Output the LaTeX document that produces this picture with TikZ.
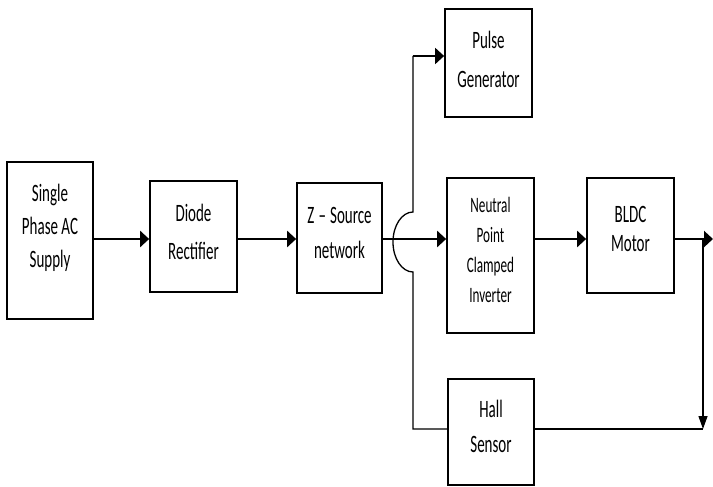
\documentclass[tikz,border=0pt]{standalone}
\usepackage{fontspec}
\setmainfont{Carlito}[FakeStretch=0.6]
\usetikzlibrary{arrows.meta}
\begin{document}
\begin{tikzpicture}[x=1pt,y=-1pt,
  block/.style={draw=black,line width=1.7pt,rectangle,inner sep=0pt},
  label/.style={anchor=north,align=center,inner sep=0pt},
  bigtext/.style={font=\fontsize{25}{#1}\selectfont},
  smalltext/.style={font=\fontsize{22}{#1}\selectfont},
  mainflow/.style={line width=2.6pt,-{Triangle[length=9pt,width=16pt]}},
  wire/.style={line width=1.3pt},
  sidearrow/.style={line width=1.8pt,-{Triangle[length=9pt,width=16pt]}},
  downarrow/.style={line width=1.3pt,-{Triangle[length=13pt,width=9pt]}}]

\useasboundingbox[fill=white] (0,0) rectangle (713,487);

% blocks
\node[block,minimum width=86pt,minimum height=157pt] (sup)   at (50,240.5) {};
\node[block,minimum width=87pt,minimum height=111pt] (rect)  at (193.5,236.5) {};
\node[block,minimum width=85pt,minimum height=110pt] (zs)    at (339.5,238) {};
\node[block,minimum width=87pt,minimum height=108pt] (pulse) at (488.5,63) {};
\node[block,minimum width=87pt,minimum height=155pt] (npc)   at (490.5,255.5) {};
\node[block,minimum width=87pt,minimum height=115pt] (bldc)  at (630.5,235.5) {};
\node[block,minimum width=86pt,minimum height=106pt] (hall)  at (491,432) {};

% block texts
\node[label,bigtext=33pt]   (tsup)   at (50,184)    {Single\\Phase AC\\Supply};
\node[label,bigtext=38pt]   (trect)  at (193.5,204) {Diode\\Rectifier};
\node[label,bigtext=35pt]   (tzs)    at (339.5,207) {Z\,–\,Source\\network};
\node[label,bigtext=39pt]   (tpulse) at (488.5,31)  {Pulse\\Generator};
\node[label,smalltext=30pt] (tnpc)   at (490.5,197) {Neutral\\Point\\Clamped\\Inverter};
\node[label,bigtext=29pt]   (tbldc)  at (630.5,206) {BLDC\\Motor};
\node[label,bigtext=35pt]   (thall)  at (491,400)   {Hall\\Sensor};

% reference points of the wiring
\coordinate (bus)   at (0,239);
\coordinate (split) at (413,56);
\coordinate (hop)   at (413,212);
\coordinate (fb)    at (413,429);
\coordinate (tap)   at (703,239);
\coordinate (out)   at (713,239);

% main power path
\draw[mainflow] (sup.east |- bus)  -- (rect.west |- bus);
\draw[mainflow] (rect.east |- bus) -- (zs.west |- bus);
\draw[mainflow] (zs.east |- bus)   -- (npc.west |- bus);
\draw[mainflow] (npc.east |- bus)  -- (bldc.west |- bus);
\draw[mainflow] (bldc.east |- bus) -- (out);

% branch to the pulse generator, hopping over the main path
\draw[sidearrow] (split) -- (pulse.west |- split);
\draw[wire] (split) -- (hop)
  arc[start angle=-90,end angle=-270,x radius=20,y radius=30]
  -- (fb) -- (hall.west |- fb);

% feedback from the motor shaft to the hall sensor
\draw[wire] (hall.east |- fb) -- (tap |- fb);
\draw[downarrow] (tap) -- (tap |- fb);
\end{tikzpicture}
\end{document}
